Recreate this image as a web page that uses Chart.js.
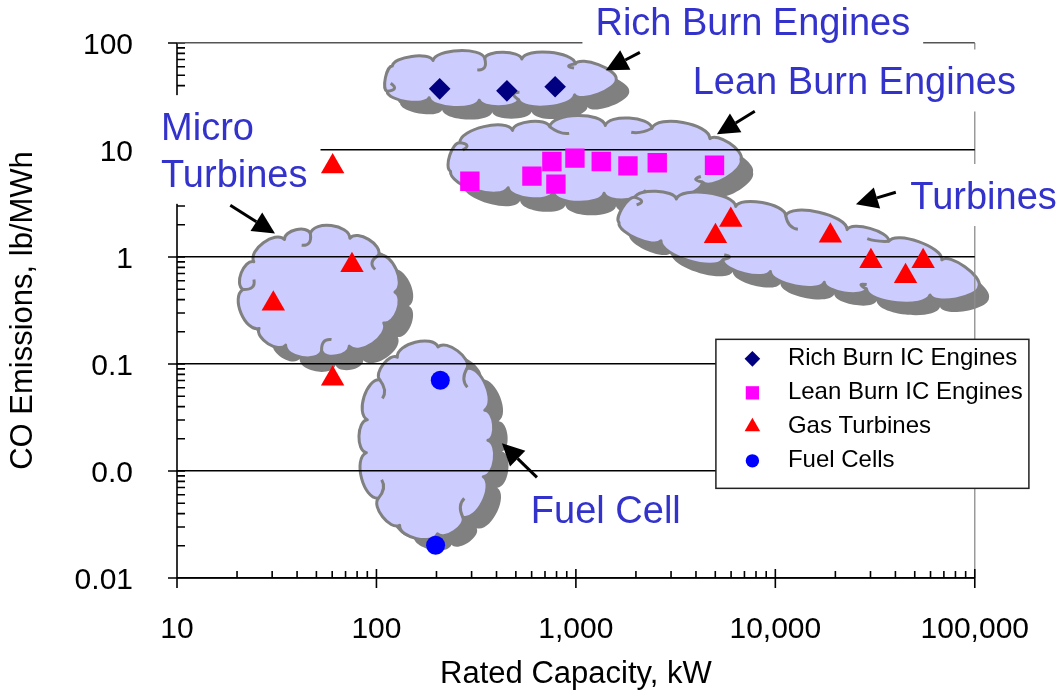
<!DOCTYPE html>
<html>
<head>
<meta charset="utf-8">
<script src="https://cdn.jsdelivr.net/npm/chart.js@4.4.1/dist/chart.umd.min.js"></script>
<style>
  html, body { margin: 0; padding: 0; background: #ffffff; }
  canvas { display: block; }
</style>
</head>
<body>
<canvas id="chart" width="1063" height="696"></canvas>
<script>
// ---- data: rated capacity (kW) and CO emissions (lb/MWh) ----
const richCapacity = [207.5, 451, 787];
const richCO = [37.3, 35.7, 39.0];

const leanCapacity = [294, 602, 758, 794, 989, 1340, 1824, 2558, 4955];
const leanCO = [5.1, 5.7, 7.8, 4.8, 8.4, 7.8, 7.1, 7.6, 7.2];

const turbineCapacity = [60.3, 30.4, 75.4, 60.3, 5010, 5980, 18880, 30150, 44960, 55080];
const turbineCO = [7.0, 0.365, 0.836, 0.0728, 1.56, 2.22, 1.58, 0.912, 0.66, 0.912];

const fuelCellCapacity = [209, 198];
const fuelCellCO = [0.0704, 0.00202];

const seriesNames = ['Rich Burn IC Engines', 'Lean Burn IC Engines', 'Gas Turbines', 'Fuel Cells'];

// ---- axis ticks ----
const xTickValues = [10, 100, 1000, 10000, 100000];
const xTickLabels = ['10', '100', '1,000', '10,000', '100,000'];
const yTickValues = [0.001, 0.01, 0.1, 1, 10, 100];
const yTickLabels = ['0.01', '0.0', '0.1', '1', '10', '100'];

// ---- styling ----
const FONT = "'Liberation Sans', Arial, Helvetica, sans-serif";
const LABEL_BLUE = '#3333cc';
const CLOUD_FILL = '#ccccff';
const CLOUD_GREY = '#808080';

// group outlines: centre in data units, size in pixels
const clouds = [
  { x: 372,   y: 45.8,   rx: 126, ry: 21, rot: 0,  bumps: 11, bulge: 0.17, shadow: [13, 12], curls: [2, 5, 8, 10] },
  { x: 1190,  y: 8.18,   rx: 150, ry: 34, rot: 0,  bumps: 13, bulge: 0.19, shadow: [12, 13], curls: [1, 4, 7, 9, 11] },
  { x: 12000, y: 1.259,  rx: 192, ry: 29, rot: 12, bumps: 15, bulge: 0.17, shadow: [10, 12], curls: [2, 5, 8, 11, 13] },
  { x: 51.5,  y: 0.47,   rx: 76,  ry: 59, rot: 0,  bumps: 12, bulge: 0.26, shadow: [14, 14], curls: [3, 6, 9, 11] },
  { x: 179,   y: 0.01936, rx: 61, ry: 95, rot: 0,  bumps: 13, bulge: 0.24, shadow: [14, 11], curls: [2, 5, 8, 11] }
];

// group captions: anchor in data units
const captions = [
  { text: ['Rich Burn Engines'], x: 7709, y: 149.6, align: 'center' },
  { text: ['Lean Burn Engines'], x: 24890, y: 41.4, align: 'center' },
  { text: ['Turbines'], x: 110700, y: 3.52, align: 'center' },
  { text: ['Micro', 'Turbines'], x: 8.32, y: 15.5, align: 'left' },
  { text: ['Fuel Cell'], x: 1413, y: 0.00406, align: 'center' }
];

// pointer arrows: from tail to head, data units
const arrows = [
  { from: [2094, 81.8],  to: [1413, 55.6] },
  { from: [7889, 23.0],  to: [5093, 14.0] },
  { from: [40180, 4.03], to: [25350, 3.11] },
  { from: [18.5, 3.04],  to: [31.0, 1.66] },
  { from: [638, 0.00873], to: [425.6, 0.01816] }
];

// legend box top-left corner in data units
const legendAnchor = { x: 5035, y: 0.170 };

function pairs(xs, ys) { return xs.map((x, i) => ({ x: x, y: ys[i] })); }

// ---- cloud drawing helpers ----
function cloudPoints(c, cx, cy) {
  const M = 720, samples = [];
  let total = 0, prev = null;
  for (let k = 0; k <= M; k++) {
    const t = k / M * Math.PI * 2;
    const p = [c.rx * Math.cos(t), c.ry * Math.sin(t)];
    if (prev) total += Math.hypot(p[0] - prev[0], p[1] - prev[1]);
    samples.push({ p: p, s: total });
    prev = p;
  }
  const pattern = [1.0, 1.25, 0.85, 1.1, 0.95, 1.3, 0.9, 1.15, 0.8, 1.2];
  const w = [];
  for (let i = 0; i < c.bumps; i++) w.push(pattern[i % pattern.length]);
  const sumW = w.reduce((a, b) => a + b, 0);
  const a = c.rot * Math.PI / 180, ca = Math.cos(a), sa = Math.sin(a);
  const pts = [];
  let acc = 0, j = 0;
  for (let i = 0; i < c.bumps; i++) {
    const s = acc / sumW * total;
    while (j < samples.length - 1 && samples[j].s < s) j++;
    const p = samples[j].p;
    pts.push([cx + p[0] * ca - p[1] * sa, cy + p[0] * sa + p[1] * ca]);
    acc += w[i];
  }
  return pts;
}

function traceCloud(ctx, pts, cx, cy, bulge, dx, dy) {
  const n = pts.length;
  ctx.beginPath();
  ctx.moveTo(pts[0][0] + dx, pts[0][1] + dy);
  for (let i = 0; i < n; i++) {
    const p0 = pts[i], p1 = pts[(i + 1) % n];
    const vx = p1[0] - p0[0], vy = p1[1] - p0[1];
    const len = Math.hypot(vx, vy);
    let nx = vy / len, ny = -vx / len;
    const mx = (p0[0] + p1[0]) / 2 - cx, my = (p0[1] + p1[1]) / 2 - cy;
    if (nx * mx + ny * my < 0) { nx = -nx; ny = -ny; }
    const h = len * bulge;
    ctx.bezierCurveTo(
      p0[0] + vx * 0.05 + nx * h * 1.33 + dx, p0[1] + vy * 0.05 + ny * h * 1.33 + dy,
      p1[0] - vx * 0.05 + nx * h * 1.33 + dx, p1[1] - vy * 0.05 + ny * h * 1.33 + dy,
      p1[0] + dx, p1[1] + dy);
  }
  ctx.closePath();
}

function drawCloud(ctx, c, cx, cy) {
  const pts = cloudPoints(c, cx, cy);
  ctx.save();
  traceCloud(ctx, pts, cx, cy, c.bulge, c.shadow[0], c.shadow[1]);
  ctx.fillStyle = CLOUD_GREY;
  ctx.fill();
  traceCloud(ctx, pts, cx, cy, c.bulge, 0, 0);
  ctx.fillStyle = CLOUD_FILL;
  ctx.fill();
  ctx.lineWidth = 3;
  ctx.strokeStyle = CLOUD_GREY;
  ctx.lineJoin = 'round';
  ctx.stroke();
  // inner folds at some bump joints
  const n = pts.length;
  c.curls.forEach((i, k) => {
    const p = pts[i % n], pa = pts[(i - 1 + n) % n], pb = pts[(i + 1) % n];
    let ux = cx - p[0], uy = cy - p[1];
    const ul = Math.hypot(ux, uy); ux /= ul; uy /= ul;
    let tx = pb[0] - pa[0], ty = pb[1] - pa[1];
    const tl = Math.hypot(tx, ty); tx /= tl; ty /= tl;
    const s = k % 2 ? 1 : -1, L = 13;
    ctx.beginPath();
    ctx.moveTo(p[0], p[1]);
    ctx.quadraticCurveTo(p[0] + ux * L, p[1] + uy * L,
      p[0] + ux * L * 0.9 + s * tx * L * 0.8, p[1] + uy * L * 0.9 + s * ty * L * 0.8);
    ctx.stroke();
  });
  ctx.restore();
}

function drawArrow(ctx, x0, y0, x1, y1) {
  const ang = Math.atan2(y1 - y0, x1 - x0);
  const headLen = 22, headHalf = 11;
  const bx = x1 - Math.cos(ang) * headLen, by = y1 - Math.sin(ang) * headLen;
  ctx.save();
  ctx.strokeStyle = '#000';
  ctx.fillStyle = '#000';
  ctx.lineWidth = 3;
  ctx.beginPath();
  ctx.moveTo(x0, y0);
  ctx.lineTo(bx, by);
  ctx.stroke();
  ctx.beginPath();
  ctx.moveTo(x1, y1);
  ctx.lineTo(bx + Math.sin(ang) * headHalf, by - Math.cos(ang) * headHalf);
  ctx.lineTo(bx - Math.sin(ang) * headHalf, by + Math.cos(ang) * headHalf);
  ctx.closePath();
  ctx.fill();
  ctx.restore();
}

// ---- plugin: clouds, axes with log ticks, captions, arrows, legend ----
const decorations = {
  id: 'decorations',
  beforeDraw(chart) {
    const ctx = chart.ctx, xs = chart.scales.x, ys = chart.scales.y, area = chart.chartArea;
    clouds.forEach(c => drawCloud(ctx, c, xs.getPixelForValue(c.x), ys.getPixelForValue(c.y)));

    ctx.save();
    // right frame line
    ctx.strokeStyle = '#8c8c8c';
    ctx.lineWidth = 1.3;
    ctx.beginPath();
    ctx.moveTo(area.right, area.top);
    ctx.lineTo(area.right, area.bottom);
    ctx.stroke();

    ctx.strokeStyle = '#000';
    ctx.lineWidth = 1.6;
    // y axis with ticks
    ctx.beginPath();
    ctx.moveTo(area.left, area.top);
    ctx.lineTo(area.left, area.bottom);
    for (let e = -3; e <= 2; e++) {
      const py = ys.getPixelForValue(Math.pow(10, e));
      ctx.moveTo(area.left - 9, py);
      ctx.lineTo(area.left + 8, py);
      if (e < 2) {
        for (let m = 2; m <= 9; m++) {
          const my = ys.getPixelForValue(m * Math.pow(10, e));
          ctx.moveTo(area.left, my);
          ctx.lineTo(area.left + 8, my);
        }
      }
    }
    // x axis with ticks
    ctx.moveTo(area.left, area.bottom);
    ctx.lineTo(area.right, area.bottom);
    for (let e = 1; e <= 5; e++) {
      const px = xs.getPixelForValue(Math.pow(10, e));
      ctx.moveTo(px, area.bottom - 9);
      ctx.lineTo(px, area.bottom + 10);
      if (e < 5) {
        for (let m = 2; m <= 9; m++) {
          const mx = xs.getPixelForValue(m * Math.pow(10, e));
          ctx.moveTo(mx, area.bottom - 7);
          ctx.lineTo(mx, area.bottom);
        }
      }
    }
    ctx.stroke();
    ctx.restore();
  },
  beforeDatasetsDraw(chart) {
    const ctx = chart.ctx, xs = chart.scales.x, ys = chart.scales.y;
    const size = 38, lineH = 46.7, padX = 13, padY = 12;
    ctx.save();
    ctx.font = size + 'px ' + FONT;
    ctx.textBaseline = 'middle';
    captions.forEach(c => {
      const ax = xs.getPixelForValue(c.x), ay = ys.getPixelForValue(c.y);
      const widths = c.text.map(t => ctx.measureText(t).width);
      const w = Math.max.apply(null, widths);
      const left = c.align === 'left' ? ax : ax - w / 2;
      const top = ay - size / 2 - padY - 3.5;
      const h = size + lineH * (c.text.length - 1) + 2 * padY;
      ctx.fillStyle = '#ffffff';
      ctx.fillRect(left - padX, top, w + 2 * padX, h);
      ctx.fillStyle = LABEL_BLUE;
      ctx.textAlign = 'left';
      c.text.forEach((t, i) => ctx.fillText(t, left, ay + i * lineH));
    });
    ctx.restore();
    arrows.forEach(a => drawArrow(ctx,
      xs.getPixelForValue(a.from[0]), ys.getPixelForValue(a.from[1]),
      xs.getPixelForValue(a.to[0]), ys.getPixelForValue(a.to[1])));
  },
  afterDraw(chart) {
    const ctx = chart.ctx, xs = chart.scales.x, ys = chart.scales.y;
    const lx = xs.getPixelForValue(legendAnchor.x), ly = ys.getPixelForValue(legendAnchor.y);
    const w = 313, h = 149, rowH = 34, firstRow = 19.5;
    const markerR = [7.8, 9.4, 9, 6.7];
    ctx.save();
    ctx.fillStyle = '#ffffff';
    ctx.fillRect(lx, ly, w, h);
    ctx.strokeStyle = '#222';
    ctx.lineWidth = 1.5;
    ctx.strokeRect(lx, ly, w, h);
    ctx.font = '24px ' + FONT;
    ctx.textBaseline = 'middle';
    ctx.textAlign = 'left';
    chart.data.datasets.forEach((ds, i) => {
      const cy = ly + firstRow + i * rowH;
      ctx.fillStyle = ds.backgroundColor;
      Chart.helpers.drawPoint(ctx, { pointStyle: ds.pointStyle, radius: markerR[i], borderWidth: 0, rotation: 0 }, lx + 36.5, cy);
      ctx.fillStyle = '#000';
      ctx.fillText(ds.label, lx + 72, cy);
    });
    ctx.restore();
  }
};

new Chart(document.getElementById('chart'), {
  type: 'scatter',
  data: {
    datasets: [
      { label: seriesNames[0], data: pairs(richCapacity, richCO), pointStyle: 'rectRot', pointRadius: 10.8,
        backgroundColor: '#000080', borderColor: '#000080', borderWidth: 0 },
      { label: seriesNames[1], data: pairs(leanCapacity, leanCO), pointStyle: 'rect', pointRadius: 13.7,
        backgroundColor: '#ff00ff', borderColor: '#ff00ff', borderWidth: 0 },
      { label: seriesNames[2], data: pairs(turbineCapacity, turbineCO), pointStyle: 'triangle', pointRadius: 13.5,
        backgroundColor: '#ff0000', borderColor: '#ff0000', borderWidth: 0 },
      { label: seriesNames[3], data: pairs(fuelCellCapacity, fuelCellCO), pointStyle: 'circle', pointRadius: 9.5,
        backgroundColor: '#0000ff', borderColor: '#0000ff', borderWidth: 0 }
    ]
  },
  options: {
    responsive: false,
    devicePixelRatio: 1,
    animation: false,
    events: [],
    layout: { padding: { left: 0, right: 88, top: 43, bottom: 0 } },
    plugins: { legend: { display: false }, tooltip: { enabled: false }, title: { display: false } },
    scales: {
      x: {
        type: 'logarithmic',
        min: 10, max: 100000,
        afterBuildTicks: s => { s.ticks = xTickValues.map(v => ({ value: v, major: true })); },
        afterFit: s => { s.height = 118; },
        grid: { display: false, drawTicks: false },
        border: { display: false },
        ticks: {
          autoSkip: false, maxRotation: 0, padding: 34, color: '#000',
          font: { family: FONT, size: 30 },
          callback: (v) => xTickLabels[xTickValues.indexOf(v)]
        },
        title: { display: true, text: 'Rated Capacity, kW', color: '#000',
          font: { family: FONT, size: 31 }, padding: { top: 0, bottom: 3 } }
      },
      y: {
        type: 'logarithmic',
        min: 0.001, max: 100,
        afterBuildTicks: s => { s.ticks = yTickValues.map(v => ({ value: v, major: true })); },
        afterFit: s => { s.width = 177; },
        grid: {
          drawTicks: true,
          tickLength: 44,
          tickColor: 'rgba(0,0,0,0)',
          lineWidth: 1.4,
          color: c => (c.tick && c.tick.value === 100 ? '#555555' : '#000000')
        },
        border: { display: false },
        ticks: {
          autoSkip: false, padding: 0, labelOffset: 3, color: '#000',
          font: { family: FONT, size: 30 },
          callback: (v) => yTickLabels[yTickValues.indexOf(v)]
        },
        title: { display: true, text: 'CO Emissions, lb/MWh', color: '#000',
          font: { family: FONT, size: 31 }, padding: { top: 5, bottom: 0 } }
      }
    }
  },
  plugins: [decorations]
});
</script>
</body>
</html>
